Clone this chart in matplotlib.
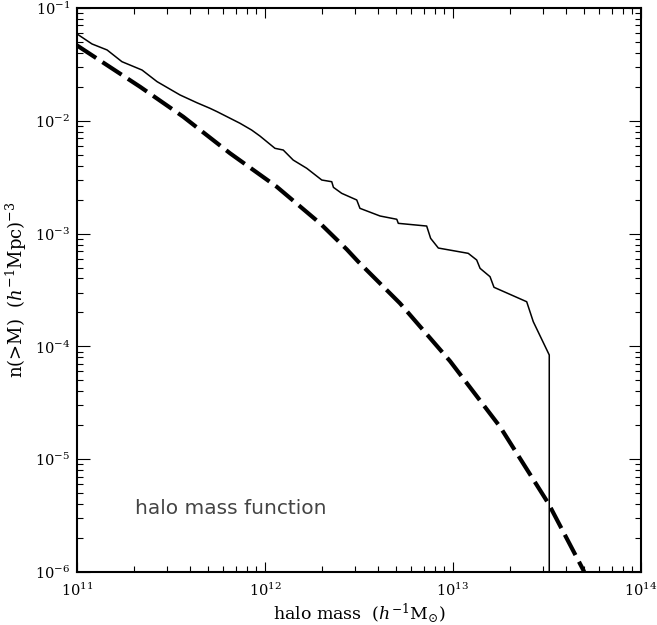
import numpy as np
import matplotlib
matplotlib.use("Agg")
import matplotlib.pyplot as plt
from matplotlib.ticker import LogLocator, NullFormatter

# ---- data (log10 values) ----
sim_log_mass = [11.000, 11.080, 11.160, 11.239, 11.346, 11.426, 11.548, 11.638,
                11.707, 11.745, 11.867, 11.929, 11.973, 12.053, 12.097, 12.150,
                12.222, 12.302, 12.355, 12.364, 12.408, 12.488, 12.505, 12.612,
                12.701, 12.709, 12.860, 12.881, 12.922, 13.081, 13.126, 13.144,
                13.197, 13.218, 13.392, 13.427, 13.512, 13.512]
sim_log_n = [-1.230, -1.319, -1.372, -1.476, -1.550, -1.653, -1.771, -1.840,
             -1.889, -1.919, -2.022, -2.082, -2.135, -2.244, -2.259, -2.348,
             -2.421, -2.525, -2.540, -2.590, -2.643, -2.702, -2.776, -2.844,
             -2.873, -2.909, -2.933, -3.042, -3.128, -3.175, -3.234, -3.308,
             -3.382, -3.476, -3.604, -3.781, -4.076, -8.000]

theory_log_mass = [11.000, 11.335, 11.565, 11.814, 12.000, 12.062, 12.293, 12.435,
                   12.496, 12.718, 12.984, 13.250, 13.507, 13.693, 13.75]
theory_log_n = [-1.332, -1.698, -1.964, -2.288, -2.510, -2.584, -2.909, -3.140,
                -3.249, -3.618, -4.130, -4.712, -5.391, -5.982, -6.19]

sim_mass = 10.0 ** np.array(sim_log_mass)
sim_n = 10.0 ** np.array(sim_log_n)
th_mass = 10.0 ** np.array(theory_log_mass)
th_n = 10.0 ** np.array(theory_log_n)

plt.rcParams['font.family'] = ['DejaVu Serif']
plt.rcParams['mathtext.fontset'] = 'dejavuserif'

fig = plt.figure(figsize=(6.57, 6.25), dpi=100)
ax = fig.add_axes([77/657, 1-572/625, (641-77)/657, (572-8)/625])

ax.plot(sim_mass, sim_n, color='black', lw=1.1)
ax.plot(th_mass, th_n, color='black', lw=3.0, dashes=(5.5, 1.8),
        dash_capstyle='butt')

ax.set_xscale('log')
ax.set_yscale('log')
ax.set_xlim(1e11, 1e14)
ax.set_ylim(1e-6, 1e-1)

ax.xaxis.set_major_locator(LogLocator(base=10, numticks=10))
ax.xaxis.set_minor_locator(LogLocator(base=10, subs=np.arange(2, 10), numticks=20))
ax.yaxis.set_major_locator(LogLocator(base=10, numticks=10))
ax.yaxis.set_minor_locator(LogLocator(base=10, subs=np.arange(2, 10), numticks=20))
ax.xaxis.set_minor_formatter(NullFormatter())
ax.yaxis.set_minor_formatter(NullFormatter())

ax.tick_params(which='both', direction='in', top=True, right=True, width=0.8)
ax.tick_params(axis='x', which='major', length=7.5, labelsize=10.5, pad=7)
ax.tick_params(axis='x', which='minor', length=4)
ax.tick_params(axis='y', which='major', length=9, labelsize=10.5, pad=5)
ax.tick_params(axis='y', which='minor', length=4.5)
for s in ax.spines.values():
    s.set_linewidth(1.5)

ax.set_xlabel(r'halo mass  $(h^{-1}\mathrm{M}_{\odot})$', fontsize=12.5, labelpad=2)
ax.set_ylabel(r'n(>M)  $(h^{-1}\mathrm{Mpc})^{-3}$', fontsize=13, labelpad=4)

ax.text(135/657, 1-509/625, 'halo mass function', transform=fig.transFigure,
        fontsize=14.5, family=['DejaVu Sans'],
        color='#444444', va='center', ha='left')

fig.savefig('out.png', dpi=100)
